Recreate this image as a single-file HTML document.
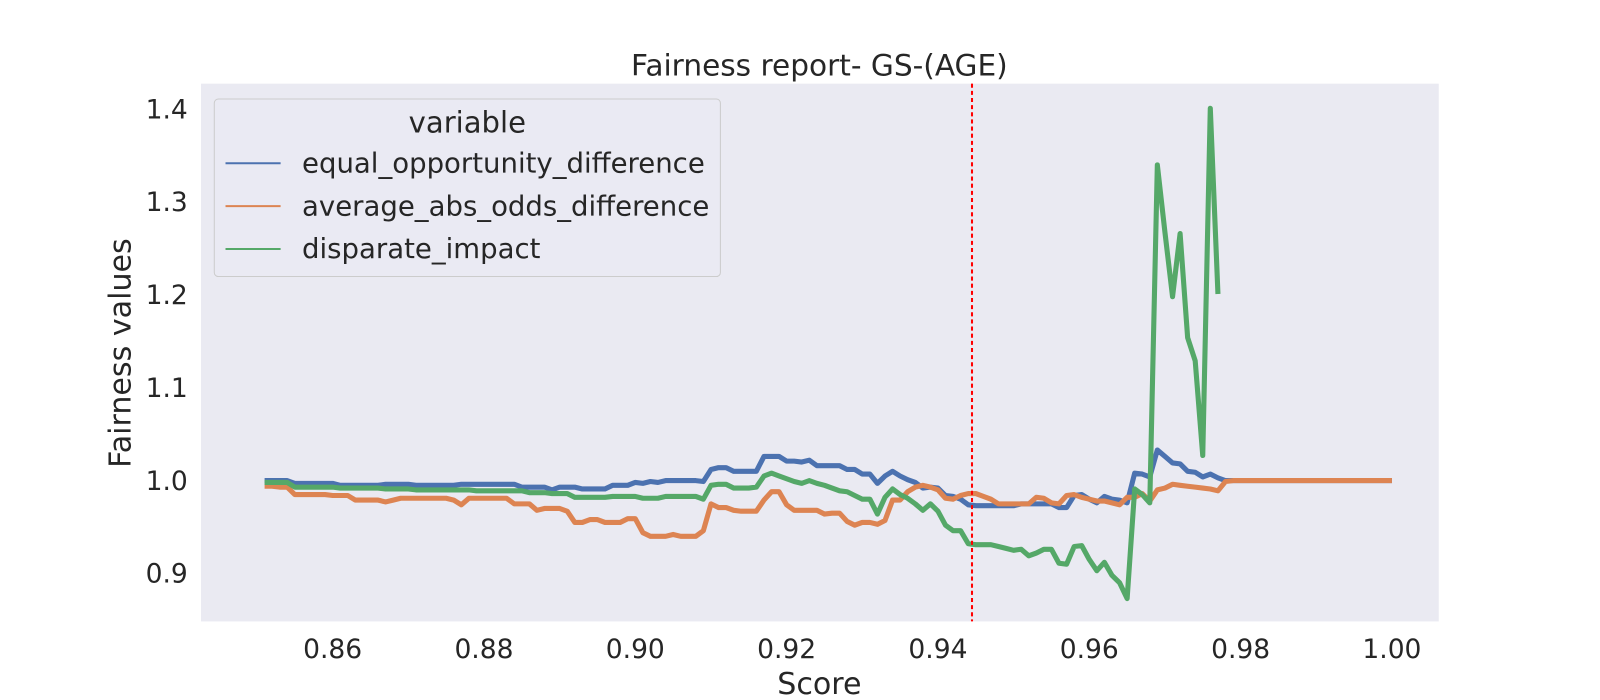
<!DOCTYPE html>
<html><head><meta charset="utf-8"><style>
html,body{margin:0;padding:0;width:1600px;height:700px;overflow:hidden;background:#fff;font-family:"Liberation Sans",sans-serif}
svg{display:block}
svg text{font-family:"DejaVu Sans","Liberation Sans",sans-serif;fill:#262626}
</style></head><body>
<svg id="c" width="1600" height="700"><g id="g" transform="scale(1.0204)"></g></svg>
<script>
const blue=[1.000,1.000,1.000,1.000,0.997,0.997,0.997,0.997,0.997,0.997,0.995,0.995,0.995,0.995,0.995,0.995,0.996,0.996,0.996,0.996,0.995,0.995,0.995,0.995,0.995,0.995,0.996,0.996,0.996,0.996,0.996,0.996,0.996,0.996,0.993,0.993,0.993,0.993,0.990,0.993,0.993,0.993,0.991,0.991,0.991,0.991,0.995,0.995,0.995,0.998,0.997,0.999,0.998,1.000,1.000,1.000,1.000,1.000,0.999,1.012,1.014,1.014,1.010,1.010,1.010,1.010,1.026,1.026,1.026,1.021,1.021,1.020,1.022,1.016,1.016,1.016,1.016,1.012,1.012,1.007,1.007,0.997,1.005,1.010,1.005,1.001,0.998,0.992,0.993,0.992,0.984,0.983,0.980,0.974,0.973,0.973,0.973,0.973,0.973,0.973,0.975,0.975,0.975,0.975,0.975,0.971,0.971,0.984,0.985,0.980,0.976,0.983,0.980,0.979,0.976,1.008,1.007,1.004,1.033,1.026,1.019,1.018,1.010,1.009,1.004,1.007,1.003,1.000,1.000,1.000,1.000,1.000,1.000,1.000,1.000,1.000,1.000,1.000,1.000,1.000,1.000,1.000,1.000,1.000,1.000,1.000,1.000,1.000,1.000,1.000];
const orange=[0.994,0.994,0.993,0.993,0.985,0.985,0.985,0.985,0.985,0.984,0.984,0.984,0.979,0.979,0.979,0.979,0.977,0.979,0.981,0.981,0.981,0.981,0.981,0.981,0.981,0.979,0.974,0.981,0.981,0.981,0.981,0.981,0.981,0.975,0.975,0.975,0.968,0.970,0.970,0.970,0.967,0.955,0.955,0.958,0.958,0.955,0.955,0.955,0.959,0.959,0.944,0.940,0.940,0.940,0.942,0.940,0.940,0.940,0.946,0.975,0.971,0.971,0.968,0.967,0.967,0.967,0.979,0.988,0.988,0.974,0.968,0.968,0.968,0.968,0.964,0.965,0.965,0.956,0.952,0.955,0.955,0.953,0.957,0.979,0.979,0.988,0.993,0.995,0.993,0.990,0.981,0.980,0.984,0.986,0.986,0.983,0.980,0.975,0.975,0.975,0.975,0.975,0.982,0.981,0.976,0.975,0.984,0.985,0.982,0.980,0.978,0.978,0.976,0.974,0.982,0.982,0.986,0.978,0.990,0.992,0.996,0.995,0.994,0.993,0.992,0.991,0.989,0.999,1.000,1.000,1.000,1.000,1.000,1.000,1.000,1.000,1.000,1.000,1.000,1.000,1.000,1.000,1.000,1.000,1.000,1.000,1.000,1.000,1.000,1.000];
const green=[0.998,0.998,0.998,0.998,0.993,0.993,0.993,0.993,0.993,0.993,0.992,0.992,0.992,0.992,0.992,0.992,0.991,0.991,0.991,0.991,0.990,0.990,0.990,0.990,0.990,0.990,0.990,0.990,0.989,0.989,0.989,0.989,0.989,0.989,0.989,0.987,0.987,0.987,0.986,0.986,0.986,0.982,0.982,0.982,0.982,0.982,0.983,0.983,0.983,0.983,0.981,0.981,0.981,0.983,0.983,0.983,0.983,0.983,0.980,0.995,0.996,0.996,0.992,0.992,0.992,0.993,1.005,1.008,1.005,1.002,0.999,0.997,1.000,0.997,0.995,0.992,0.989,0.988,0.984,0.980,0.980,0.964,0.982,0.991,0.985,0.981,0.975,0.968,0.975,0.967,0.952,0.946,0.946,0.932,0.931,0.931,0.931,0.929,0.927,0.925,0.926,0.919,0.922,0.926,0.926,0.911,0.910,0.929,0.930,0.915,0.903,0.912,0.898,0.890,0.873,0.991,0.985,0.976,1.340,1.267,1.198,1.266,1.154,1.129,1.027,1.401,1.201];
const yTicks=[0.9,1.0,1.1,1.2,1.3,1.4];
const xTicks=[0.86,0.88,0.90,0.92,0.94,0.96,0.98,1.00];
const xStart=0.851, xStep=0.001, vline=0.9445;
const NS="http://www.w3.org/2000/svg";
const svg=document.getElementById('g');
const L=197,R=1410,T=82,B=609;
const sx=v=>326+(v-0.86)/0.02*148.3;
const sy=v=>471-(v-1)*910;
function el(t,a,txt){const e=document.createElementNS(NS,t);for(const k in a)e.setAttribute(k,a[k]);if(txt!=null)e.textContent=txt;svg.appendChild(e);return e;}
let bg=el('rect',{x:L,y:T,width:R-L,height:B-T,fill:'#eaeaf2'});


let ti=el('text',{x:803,y:74,'font-size':29,'text-anchor':'middle'},'Fairness report- GS-(AGE)');


yTicks.forEach(v=>{const t=el('text',{x:184,y:sy(v)+9,'font-size':26,'text-anchor':'end'},v.toFixed(1));

});
xTicks.forEach(v=>{const t=el('text',{x:sx(v),y:645,'font-size':26,'text-anchor':'middle'},v.toFixed(2));

});
let xl=el('text',{x:803,y:680,'font-size':29.5,'text-anchor':'middle'},'Score');


let yl=el('text',{x:0,y:0,'font-size':29.5,'text-anchor':'middle',transform:'translate(128,346) rotate(-90)'},'Fairness values');


function line(arr,col,name){const d=arr.map((v,i)=>(i?'L':'M')+sx(xStart+i*xStep).toFixed(1)+','+sy(v).toFixed(1)).join('');
const p=el('path',{d:d,fill:'none',stroke:col,'stroke-width':5,'stroke-linejoin':'round'});

}
line(blue,'#4c72b0','equal-opportunity-line');
line(orange,'#dd8452','average-abs-odds-line');
line(green,'#55a868','disparate-impact-line');
const vl=el('line',{x1:sx(vline),x2:sx(vline),y1:T,y2:B,stroke:'red','stroke-width':2,'stroke-dasharray':'4,3'});


const lg=el('rect',{x:210,y:97,width:496,height:174,rx:4,fill:'#eaeaf2','fill-opacity':0.8,stroke:'#cccccc'});


const lt=el('text',{x:458,y:130,'font-size':28.5,'text-anchor':'middle'},'variable');


[['equal_opportunity_difference','#4c72b0'],['average_abs_odds_difference','#dd8452'],['disparate_impact','#55a868']].forEach((e,i)=>{
const y=160+i*42;
const s=el('line',{x1:221,x2:275,y1:y,y2:y,stroke:e[1],'stroke-width':2});


const t=el('text',{x:296,y:y+9,'font-size':27},e[0]);

});
</script></body></html>
